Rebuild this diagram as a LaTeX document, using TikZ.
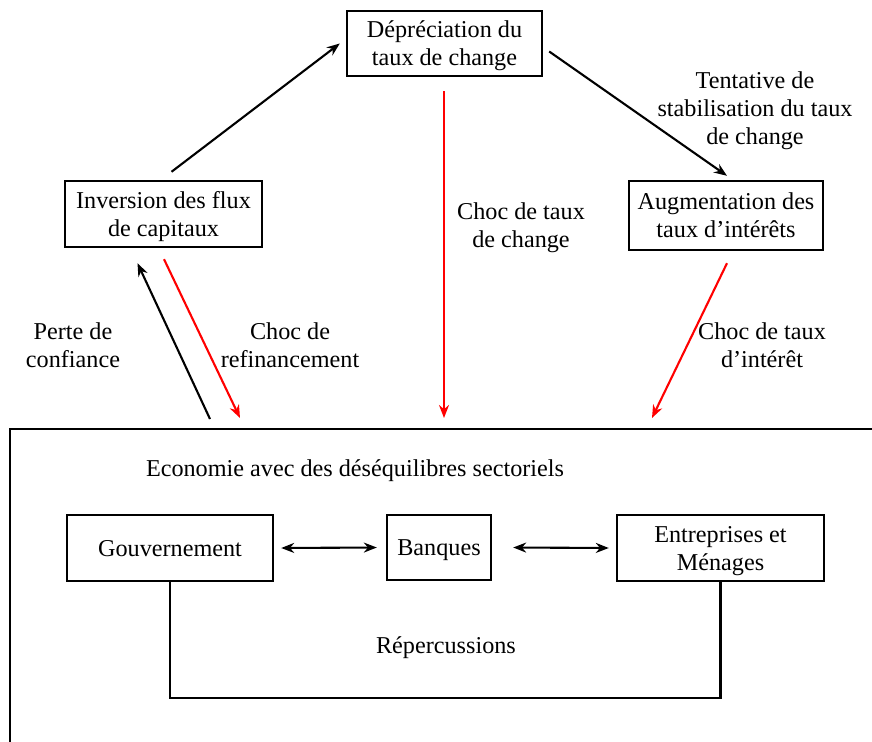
\documentclass[tikz,border=0pt]{standalone}
\usepackage{fontspec}
\setmainfont{Liberation Serif}
\usetikzlibrary{arrows.meta,calc}
\begin{document}
\begin{tikzpicture}[x=1pt,y=-1pt,
  txt/.style={font=\fontsize{24.2}{28}\selectfont, align=center, inner sep=0pt},
  box/.style={draw, line width=2.4pt, txt, text depth=0pt},
  arr/.style={line width=2.1pt, -{Stealth[length=13pt,width=10pt]}},
  rarr/.style={arr, draw=red, fill=red},
  darr/.style={line width=2.1pt, {Stealth[length=13pt,width=10pt]}-{Stealth[length=13pt,width=10pt]}}]
\useasboundingbox (0,0) rectangle (872,741);
\clip (0,0) rectangle (872,741);
\fill[white] (0,0) rectangle (872,741);

% top boxes
\node[box, minimum width=195pt, minimum height=65pt] (dep) at (444.5,43.5) {Dépréciation du\\taux de change};
\node[box, minimum width=197pt, minimum height=66pt] (inv) at (163.5,214) {Inversion des flux\\de capitaux};
\node[box, minimum width=194pt, minimum height=69pt] (aug) at (726,215.5) {Augmentation des\\taux d’intérêts};

% outer box (cropped)
\draw[line width=2.4pt] (10,760) -- (10,429) -- (890,429);
\coordinate (t1) at (210,419);
\coordinate (t2) at (240,418);
\coordinate (t3) at (444,418);
\coordinate (t4) at (652,418);

% inner boxes
\node[box, minimum width=206pt, minimum height=66pt] (gov) at (170,548) {Gouvernement};
\node[box, minimum width=104pt, minimum height=65pt] (ban) at (439,547.5) {Banques};
\node[box, minimum width=207pt, minimum height=66pt] (ent) at (720.5,548) {Entreprises et\\Ménages};

% labels
\node[txt] (l1) at (755,111) {Tentative de\\stabilisation du taux\\de change};
\node[txt] (l2) at (521,228) {Choc de taux\\de change};
\node[txt] (l3) at (73,345) {Perte de\\confiance};
\node[txt] (l4) at (290,345) {Choc de\\refinancement};
\node[txt] (l5) at (762,345) {Choc de taux\\d’intérêt};
\node[txt] (l6) at (355,471) {Economie avec des déséquilibres sectoriels};
\node[txt] (l7) at (446,648) {Répercussions};

% arrows top cycle
\draw[arr] ($(inv.north)+(8,-8)$) -- ($(dep.west)+(-6,0)$);
\draw[arr] ($(dep.east)+(6,8)$) -- ($(aug.north)+(1,-4)$);
\draw[rarr] ($(dep.south)+(-0.5,14)$) -- (t3);
\draw[arr] (t1) -- ($(inv.south)+(-26,15)$);
\draw[rarr] ($(inv.south)+(0.5,11)$) -- (t2);
\draw[rarr] ($(aug.south)+(1,12)$) -- (t4);

% inner arrows
\draw[darr] ($(gov.east)+(7,0)$) -- ($(ban.west)+(-9,0)$);
\draw[darr] ($(ban.east)+(21,0)$) -- ($(ent.west)+(-7,0)$);

% repercussions loop
\draw[line width=2.4pt] (gov.south) -- ++(0,116) -| (ent.south);
\end{tikzpicture}
\end{document}
